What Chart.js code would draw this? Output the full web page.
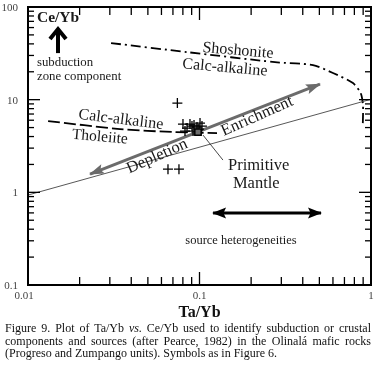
<!DOCTYPE html>
<html>
<head>
<meta charset="utf-8">
<script src="https://cdn.jsdelivr.net/npm/chart.js@4.4.1/dist/chart.umd.min.js"></script>
<style>
  html, body { margin: 0; padding: 0; background: #fff; }
  body { width: 378px; height: 381px; overflow: hidden; position: relative; font-family: "Liberation Serif", "Times New Roman", serif; color: #1a1a1a; }
  #plot { position: absolute; left: 0; top: 0; }
  #labels { position: absolute; left: 0; top: 0; width: 378px; height: 320px; pointer-events: none; }
  #labels span { position: absolute; white-space: nowrap; line-height: 1; }
  #caption { position: absolute; left: 5px; top: 322px; width: 366px; font-size: 12px; line-height: 12.5px; color: #111; }
  #caption div { text-align: justify; text-align-last: justify; }
  #caption div.last { text-align-last: left; }
</style>
</head>
<body>
<canvas id="plot" width="378" height="320"></canvas>
<div id="labels"></div>
<div id="caption">
  <div>Figure 9. Plot of Ta/Yb <i>vs.</i> Ce/Yb used to identify subduction or crustal</div>
  <div>components and sources (after Pearce, 1982) in the Olinalá mafic rocks</div>
  <div class="last">(Progreso and Zumpango units). Symbols as in Figure 6.</div>
</div>
<script>
// samples (crosses)
const sampleTaYb = [0.0743, 0.0655, 0.0759, 0.0801, 0.0846, 0.0880, 0.0904, 0.0929, 0.0967, 0.1007, 0.1034, 0.0823, 0.0917, 0.0993]
const sampleCeYb = [9.19, 1.78, 1.78, 5.45, 4.94, 5.45, 5.19, 5.32, 5.06, 5.59, 5.19, 4.58, 4.58, 4.82]

// primitive mantle
const pmTaYb = [0.098]
const pmCeYb = [4.47]

// mantle array (lower limit)
const arrayTaYb = [0.01, 1]
const arrayCeYb = [0.935, 10.1]

// shoshonite / calc-alkaline boundary
const shoTaYb = [0.0305, 0.0846, 0.2755, 0.459, 0.600, 0.785, 0.870, 0.898, 0.895]
const shoCeYb = [40.8, 32.6, 25.4, 23.6, 19.4, 15.1, 11.8, 8.74, 5.06]

// calc-alkaline / tholeiite boundary
const thoTaYb = [0.0131, 0.0344, 0.0720, 0.1265]
const thoCeYb = [5.88, 4.82, 4.47, 4.36]

// depletion - enrichment vector
const vecTaYb = [0.0230, 0.504]
const vecCeYb = [1.575, 14.7]

// source heterogeneities arrow
const hetTaYb = [0.120, 0.511]
const hetCeYb = [0.598, 0.598]

// leader line to "Primitive Mantle"
const leadTaYb = [0.1048, 0.137]
const leadCeYb = [4.15, 2.23]

const xTicks = [0.01, 0.1, 1]
const xTickLabels = ["0.01", "0.1", "1"]
const yTicks = [0.1, 1, 10, 100]
const yTickLabels = ["0.1", "1", "10", "100"]

const pts = (xs, ys) => xs.map((v, i) => ({ x: v, y: ys[i] }))

// text notes: [text, x, y, align, rotation deg, size, bold]
const notes = [
    ["Ce/Yb", 0.01128, 77.8, "left", 0, 15.5, true],
    ["subduction", 0.01128, 25.4, "left", 0, 12.8, false],
    ["zone component", 0.01128, 18.0, "left", 0, 12.8, false],
    ["Shoshonite", 0.1677, 34.3, "center", 5, 16, false],
    ["Calc-alkaline", 0.1408, 22.5, "center", 5, 16, false],
    ["Calc-alkaline", 0.0348, 6.18, "center", 7, 16, false],
    ["Tholeiite", 0.0263, 4.05, "center", 5, 15.5, false],
    ["Depletion", 0.0565, 2.46, "center", -24, 16.5, false],
    ["Enrichment", 0.216, 6.65, "center", -24, 16.5, false],
    ["Primitive", 0.1466, 1.97, "left", 0, 16.5, false],
    ["Mantle", 0.1567, 1.26, "left", 0, 16.5, false],
    ["source heterogeneities", 0.1746, 0.306, "center", 0, 12.5, false],
]

function arrowHead(ctx, from, to, len, wid, color) {
    const ang = Math.atan2(to.y - from.y, to.x - from.x)
    ctx.save()
    ctx.translate(to.x, to.y)
    ctx.rotate(ang)
    ctx.fillStyle = color
    ctx.beginPath()
    ctx.moveTo(1, 0)
    ctx.lineTo(-len, wid / 2)
    ctx.lineTo(-len * 0.8, 0)
    ctx.lineTo(-len, -wid / 2)
    ctx.closePath()
    ctx.fill()
    ctx.restore()
}

const overlay = {
    id: 'overlay',
    afterDatasetsDraw(chart) {
        const { ctx, scales: { x, y } } = chart

        // arrowheads on flagged datasets
        chart.data.datasets.forEach((ds, i) => {
            if (!ds.arrows) return
            const p = chart.getDatasetMeta(i).data
            const a = p[0], b = p[p.length - 1]
            arrowHead(ctx, a, b, ds.arrows.len, ds.arrows.wid, ds.borderColor)
            arrowHead(ctx, b, a, ds.arrows.len, ds.arrows.wid, ds.borderColor)
        })

        // subduction arrow
        const ax = x.getPixelForValue(0.01496)
        const ay0 = y.getPixelForValue(31.8)
        const ay1 = y.getPixelForValue(60.7)
        ctx.save()
        ctx.strokeStyle = '#000'
        ctx.lineWidth = 4
        ctx.beginPath()
        ctx.moveTo(ax, ay0)
        ctx.lineTo(ax, ay1 + 2)
        ctx.stroke()
        ctx.lineJoin = 'miter'
        ctx.beginPath()
        ctx.moveTo(ax - 8, ay1 + 12)
        ctx.lineTo(ax, ay1 + 2)
        ctx.lineTo(ax + 8, ay1 + 12)
        ctx.stroke()
        ctx.restore()
    },
    afterDraw(chart) {
        const { ctx, chartArea: a, scales: { x, y } } = chart
        ctx.save()
        ctx.strokeStyle = '#000'
        ctx.lineWidth = 1.3

        const tick = (px, py, dx, dy) => {
            ctx.beginPath()
            ctx.moveTo(px, py)
            ctx.lineTo(px + dx, py + dy)
            ctx.stroke()
        }
        // x ticks, bottom and top, pointing inward
        for (let d = 0; d < xTicks.length; d++) {
            for (let m = 1; m < 10; m++) {
                const v = xTicks[d] * m
                if (v > 1 + 1e-9) break
                const px = x.getPixelForValue(v)
                const len = m === 1 ? 13 : 8
                tick(px, a.bottom, 0, -len)
                tick(px, a.top, 0, len)
            }
        }
        // y ticks, left and right
        for (let d = 0; d < yTicks.length; d++) {
            for (let m = 1; m < 10; m++) {
                const v = yTicks[d] * m
                if (v > 100 + 1e-9) break
                const py = y.getPixelForValue(v)
                const len = m === 1 ? 12 : 6
                tick(a.left, py, len, 0)
                tick(a.right, py, -len, 0)
            }
        }

        // frame
        ctx.lineWidth = 2
        ctx.strokeRect(a.left, a.top, a.right - a.left, a.bottom - a.top)
        ctx.restore()
    }
}

// html text placed through the chart scales
function addLabel(box, text, left, top, align, rot, size, bold, color) {
    const s = document.createElement('span')
    s.textContent = text
    s.style.left = left + 'px'
    s.style.top = top + 'px'
    s.style.fontSize = size + 'px'
    if (bold) s.style.fontWeight = 'bold'
    if (color) s.style.color = color
    const tx = align === 'center' ? '-50%' : align === 'right' ? '-100%' : '0'
    s.style.transformOrigin = align === 'left' ? '0 50%' : align === 'right' ? '100% 50%' : '50% 50%'
    s.style.transform = `translate(${tx}, -50%) rotate(${rot}deg)`
    box.appendChild(s)
}

function placeLabels(chart) {
    const box = document.getElementById('labels')
    const { chartArea: a, scales: { x, y } } = chart
    notes.forEach(([t, vx, vy, align, rot, size, bold]) => {
        addLabel(box, t, x.getPixelForValue(vx), y.getPixelForValue(vy), align, rot, size, bold)
    })
    yTicks.forEach((v, i) => addLabel(box, yTickLabels[i], a.left - 10, y.getPixelForValue(v), 'right', 0, 11, false, '#444'))
    xTicks.forEach((v, i) => addLabel(box, xTickLabels[i], x.getPixelForValue(v) - (i === 0 ? 4 : 0), a.bottom + 10, 'center', 0, 11, false, '#444'))
    addLabel(box, 'Ta/Yb', x.getPixelForValue(0.1), a.bottom + 27, 'center', 0, 16, true, '#111')
}

const chart = new Chart(document.getElementById('plot').getContext('2d'), {
    type: 'scatter',
    data: {
        datasets: [
            {
                label: 'Primitive Mantle',
                data: pts(pmTaYb, pmCeYb),
                pointStyle: 'rect',
                pointRadius: 4.5,
                backgroundColor: '#6b6b6b',
                borderColor: '#000',
                borderWidth: 1.5,
            },
            {
                label: 'Samples',
                data: pts(sampleTaYb, sampleCeYb),
                pointStyle: 'cross',
                pointRadius: 5,
                borderColor: '#000',
                borderWidth: 1.3,
            },
            {
                type: 'line',
                label: 'leader',
                data: pts(leadTaYb, leadCeYb),
                borderColor: '#333',
                borderWidth: 0.9,
                pointRadius: 0,
            },
            {
                type: 'line',
                label: 'vector',
                data: pts(vecTaYb, vecCeYb),
                borderColor: '#6b6b6b',
                borderWidth: 3,
                pointRadius: 0,
                arrows: { len: 14, wid: 10 },
            },
            {
                type: 'line',
                label: 'heterogeneities',
                data: pts(hetTaYb, hetCeYb),
                borderColor: '#000',
                borderWidth: 3,
                pointRadius: 0,
                arrows: { len: 13, wid: 11 },
            },
            {
                type: 'line',
                label: 'mantle array',
                data: pts(arrayTaYb, arrayCeYb),
                borderColor: '#444',
                borderWidth: 0.9,
                pointRadius: 0,
            },
            {
                type: 'line',
                label: 'shoshonite',
                data: pts(shoTaYb, shoCeYb),
                borderColor: '#000',
                borderWidth: 1.8,
                borderDash: [10, 4, 2, 4],
                tension: 0.25,
                pointRadius: 0,
            },
            {
                type: 'line',
                label: 'tholeiite',
                data: pts(thoTaYb, thoCeYb),
                borderColor: '#000',
                borderWidth: 1.8,
                borderDash: [12, 4],
                tension: 0.3,
                pointRadius: 0,
            },
        ]
    },
    options: {
        responsive: false,
        animation: false,
        layout: { padding: { left: 28, right: 7, top: 7, bottom: 35 } },
        scales: {
            x: { type: 'logarithmic', min: 0.01, max: 1, display: false },
            y: { type: 'logarithmic', min: 0.1, max: 100, display: false },
        },
        plugins: {
            legend: { display: false },
            tooltip: { enabled: false },
        }
    },
    plugins: [overlay]
})

placeLabels(chart)
</script>
</body>
</html>
